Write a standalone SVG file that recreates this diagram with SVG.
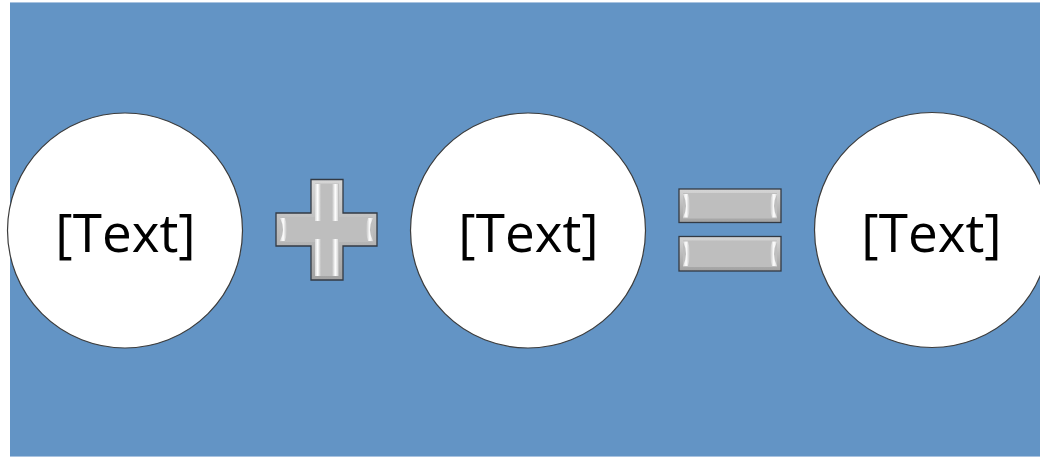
<svg xmlns="http://www.w3.org/2000/svg" width="1040" height="460" viewBox="0 0 1040 460">
<style>
.node circle{fill:#ffffff;stroke:#3c3c3c;stroke-width:1.2}
.lbl{font-family:"Open Sans","Noto Sans",sans-serif;font-size:53px;fill:#000;text-anchor:middle}
.sym{fill:url(#edge);stroke:#333a44;stroke-width:1.3}
.face{fill:#bebebe}
.hl{fill:url(#hlL)}
.hr{fill:url(#hlR)}
</style>
<defs>
<linearGradient id="edge" x1="0" y1="0" x2="0" y2="1">
<stop offset="0" stop-color="#d6d6d6"/>
<stop offset="1" stop-color="#a2a2a2"/>
</linearGradient>
<linearGradient id="hlL" x1="0" y1="0" x2="1" y2="0">
<stop offset="0" stop-color="#ffffff" stop-opacity="0.4"/>
<stop offset="0.45" stop-color="#ffffff" stop-opacity="1"/>
<stop offset="1" stop-color="#ffffff" stop-opacity="0"/>
</linearGradient>
<linearGradient id="hlR" x1="1" y1="0" x2="0" y2="0">
<stop offset="0" stop-color="#ffffff" stop-opacity="0.4"/>
<stop offset="0.45" stop-color="#ffffff" stop-opacity="1"/>
<stop offset="1" stop-color="#ffffff" stop-opacity="0"/>
</linearGradient>
</defs>
<rect x="10" y="2" width="1030" height="455" fill="#6394c5"/>
<line x1="10" y1="2.5" x2="1040" y2="2.5" stroke="#a9c3e0" stroke-width="1"/>
<line x1="10" y1="456.5" x2="1040" y2="456.5" stroke="#a9c3e0" stroke-width="1"/>
<g id="node-a" class="node">
<circle cx="125" cy="230.5" r="117.5"/>
<text class="lbl" x="125.5" y="252">[Text]</text>
</g>
<g id="plus">
<path class="sym" d="M311,179.5 H343 V213 H377 V246 H343 V280 H311 V246 H276 V213 H311 Z"/>
<path class="face" d="M315,183.5 H339 V217 H373 V242 H339 V276 H315 V242 H280 V217 H315 Z"/>
<rect class="hl" x="315" y="184" width="6" height="37"/>
<rect class="hl" x="315" y="239" width="6" height="37"/>
<rect class="hr" x="332" y="184" width="6" height="37"/>
<rect class="hr" x="332" y="239" width="6" height="37"/>
<path class="hl" d="M280,218 Q286,229.5 280,241 H285 Q289,229.5 285,218 Z"/>
<path class="hr" d="M373,218 Q367,229.5 373,241 H368 Q364,229.5 368,218 Z"/>
</g>
<g id="node-b" class="node">
<circle cx="528" cy="230.5" r="117.5"/>
<text class="lbl" x="528.5" y="252">[Text]</text>
</g>
<g id="equals">
<rect class="sym" x="679" y="189" width="102" height="33.5"/>
<rect class="face" x="683" y="193" width="94" height="25.5"/>
<path class="hl" d="M683,194 Q689,205.75 683,217.5 H688 Q692,205.75 688,194 Z"/>
<path class="hr" d="M777,194 Q771,205.75 777,217.5 H772 Q768,205.75 772,194 Z"/>
<rect class="sym" x="679" y="236.5" width="102" height="34.5"/>
<rect class="face" x="683" y="240.5" width="94" height="26.5"/>
<path class="hl" d="M683,241.5 Q689,253.75 683,266 H688 Q692,253.75 688,241.5 Z"/>
<path class="hr" d="M777,241.5 Q771,253.75 777,266 H772 Q768,253.75 772,241.5 Z"/>
</g>
<g id="node-c" class="node">
<circle cx="932" cy="230" r="117.5"/>
<text class="lbl" x="931.5" y="252">[Text]</text>
</g>
<g id="connectors"></g>
</svg>
